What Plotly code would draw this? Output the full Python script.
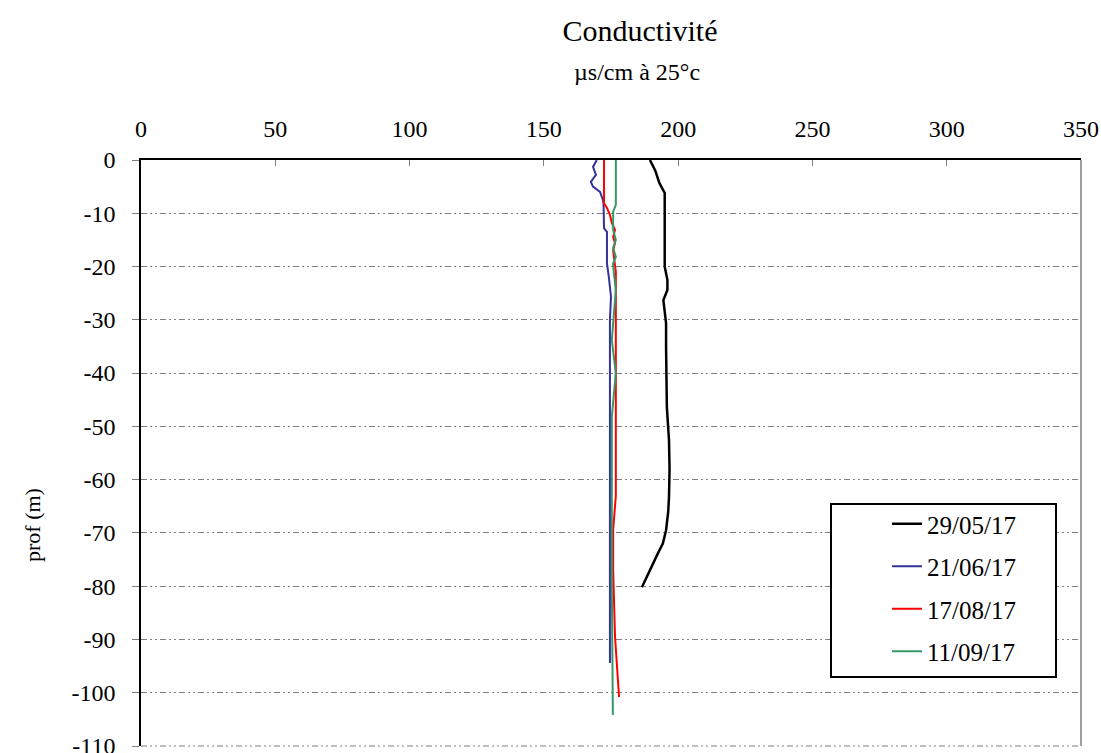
import plotly.graph_objects as go

# ---- data ----
series_names = ["29/05/17", "21/06/17", "17/08/17", "11/09/17"]
series_colors = ["#000000", "#333399", "#ff0000", "#339966"]
series_widths = [2.5, 2, 2, 2]

depth_2905 = [0, -2, -4.3, -6.2, -10, -15, -20, -22.5, -24.4, -26.3, -30.6, -35, -40,
              -46.4, -52.6, -58, -63.2, -66, -69.5, -72, -73.8, -76, -78.8, -80.2]
cond_2905 = [189.5, 191.5, 193, 195, 195, 195, 195, 196, 196, 194.5, 195.5, 195.5, 195.6,
             195.8, 196.6, 196.8, 196.6, 196.3, 195.5, 194.3, 192.5, 190.5, 188, 186.5]

depth_2106 = [0, -1.3, -2.8, -4.1, -5, -6, -7.5, -8.1, -10, -12.8, -13.5, -16, -19.4,
              -22, -25.7, -30, -50, -70, -94.4]
cond_2106 = [169.7, 168.3, 169.4, 167.5, 168.3, 170.9, 172, 172.2, 172.3, 172.4, 173.5,
             173.5, 173.5, 174.2, 175, 174.6, 174.6, 174.6, 174.6]

depth_1708 = [0, -8.1, -9, -10.3, -11.8, -13.1, -14.4, -15.6, -17, -18.8, -21, -27, -40,
              -63, -69.5, -77, -89.5, -100.8]
cond_1708 = [172.4, 172.4, 173.5, 174.6, 175.3, 176.5, 175.8, 176.5, 175.8, 176.2, 176.8,
             176.8, 176.8, 176.8, 175.8, 175.8, 176.5, 178]

depth_1109 = [0, -8.4, -9.7, -13.1, -15, -16.5, -18.2, -19.4, -20, -24.4, -33.8, -40,
              -48.2, -52, -80, -104.2]
cond_1109 = [176.8, 176.8, 175.8, 175.8, 176.8, 175.8, 176.8, 175.8, 175.8, 176.8, 175.3,
             176.8, 175.3, 175.3, 175.3, 175.7]

x_ticks = [0, 50, 100, 150, 200, 250, 300, 350]
y_ticks = [0, -10, -20, -30, -40, -50, -60, -70, -80, -90, -100, -110]

all_x = [cond_2905, cond_2106, cond_1708, cond_1109]
all_y = [depth_2905, depth_2106, depth_1708, depth_1109]

FONT = "Liberation Serif"
GRID_DASH = "6px,3px,2px,3px,2px,3px"

# plot-area pixel geometry (for placing annotations)
PL, PR, PT, PB = 141, 1081, 160, 746
PW, PH = PR - PL, PB - PT


def px_to_paper_x(px):
    return (px - PL) / PW


def px_to_paper_y(py):
    return (PB - py) / PH


fig = go.Figure()
for i, name in enumerate(series_names):
    fig.add_trace(go.Scatter(
        x=all_x[i], y=all_y[i], mode="lines", name=name,
        line=dict(color=series_colors[i], width=series_widths[i]),
        legendgroup=name,
    ))

fig.update_layout(
    width=1101, height=753,
    margin=dict(l=PL, r=1101 - PR, t=PT, b=753 - PB, autoexpand=False),
    paper_bgcolor="white", plot_bgcolor="white",
    font=dict(family=FONT, color="black", size=24),
    title=dict(text="Conductivité", x=640 / 1101, xref="container", xanchor="center",
               y=1 - 30 / 753, yref="container", yanchor="middle",
               font=dict(family=FONT, size=30, color="black")),
    showlegend=True,
    legend=dict(x=px_to_paper_x(887), y=px_to_paper_y(501), xanchor="left", yanchor="top",
                borderwidth=0, bgcolor="rgba(0,0,0,0)",
                font=dict(family=FONT, size=25, color="black"),
                traceorder="grouped", tracegroupgap=7),
    xaxis=dict(side="top", range=[0, 350], tickvals=x_ticks,
               ticktext=[str(v) for v in x_ticks],
               showgrid=False, zeroline=False, automargin=False,
               showline=True, linecolor="black", linewidth=1.5,
               ticks="inside", ticklen=6, tickcolor="#808080",
               ticklabelstandoff=12,
               tickfont=dict(family=FONT, size=24, color="black")),
    yaxis=dict(range=[-110, 0], tickvals=y_ticks,
               ticktext=[str(v) for v in y_ticks],
               showgrid=True, gridcolor="#808080", gridwidth=1,
               griddash=GRID_DASH, automargin=False,
               zeroline=False,
               showline=True, linecolor="black", linewidth=1.5,
               ticks="outside", ticklen=7, tickcolor="#808080",
               ticklabelstandoff=12, ticklabeloverflow="allow",
               tickfont=dict(family=FONT, size=24, color="black")),
)

# right border and bottom grid line
fig.add_shape(type="line", xref="paper", yref="paper", x0=1, x1=1, y0=0, y1=1,
              line=dict(color="#808080", width=1.5))
fig.add_shape(type="line", xref="paper", yref="paper", x0=0, x1=1, y0=0, y1=0,
              line=dict(color="#808080", width=1, dash=GRID_DASH))
# legend frame
fig.add_shape(type="rect", xref="paper", yref="paper",
              x0=px_to_paper_x(831), x1=px_to_paper_x(1056),
              y0=px_to_paper_y(677), y1=px_to_paper_y(504),
              line=dict(color="black", width=2), fillcolor="white", layer="above")

fig.add_annotation(text="µs/cm à 25°c", xref="paper", yref="paper",
                   x=px_to_paper_x(637), y=px_to_paper_y(72), xanchor="center",
                   yanchor="middle", showarrow=False,
                   font=dict(family=FONT, size=24, color="black"))
fig.add_annotation(text="prof (m)", xref="paper", yref="paper",
                   x=px_to_paper_x(32), y=px_to_paper_y(525), xanchor="center",
                   yanchor="middle", textangle=-90, showarrow=False,
                   font=dict(family=FONT, size=22, color="black"))

fig.write_html("out.html")
